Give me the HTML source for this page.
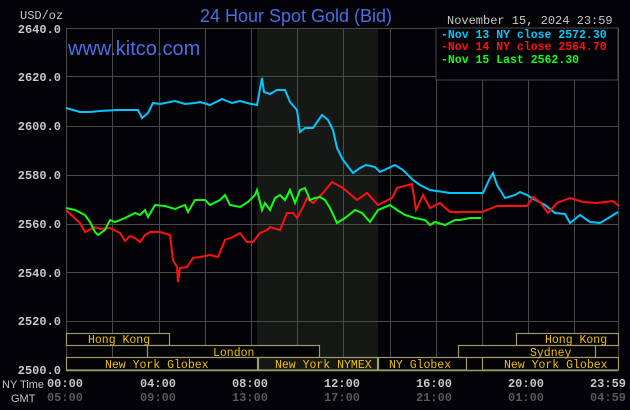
<!DOCTYPE html>
<html><head><meta charset="utf-8"><style>
html,body{margin:0;padding:0;background:#030206;}
svg{display:block}
.ax{font-family:"Liberation Mono",monospace;font-size:12px;fill:#c8c8c8;font-weight:bold}
.gm{font-family:"Liberation Mono",monospace;font-size:12px;fill:#5a5a5a;font-weight:bold}
.ses{font-family:"Liberation Mono",monospace;font-size:11.5px;fill:#f0c000}
.lg{font-family:"Liberation Mono",monospace;font-size:11.5px;font-weight:bold}
</style></head><body>
<svg width="630" height="410" viewBox="0 0 630 410">
<rect width="630" height="410" fill="#030206"/>
<rect x="257" y="28" width="121" height="342" fill="#151815"/>
<g stroke="#4a4a4a" stroke-width="1">
<line x1="66" y1="28.5" x2="618" y2="28.5"/>
<line x1="66" y1="76.5" x2="618" y2="76.5"/>
<line x1="66" y1="126.5" x2="618" y2="126.5"/>
<line x1="66" y1="175.5" x2="618" y2="175.5"/>
<line x1="66" y1="224.5" x2="618" y2="224.5"/>
<line x1="66" y1="272.5" x2="618" y2="272.5"/>
<line x1="66" y1="321.5" x2="618" y2="321.5"/>
<line x1="66.5" y1="28" x2="66.5" y2="370"/>
<line x1="112.5" y1="28" x2="112.5" y2="370"/>
<line x1="159.5" y1="28" x2="159.5" y2="370"/>
<line x1="205.5" y1="28" x2="205.5" y2="370"/>
<line x1="251.5" y1="28" x2="251.5" y2="370"/>
<line x1="297.5" y1="28" x2="297.5" y2="370"/>
<line x1="343.5" y1="28" x2="343.5" y2="370"/>
<line x1="390.5" y1="28" x2="390.5" y2="370"/>
<line x1="436.5" y1="28" x2="436.5" y2="370"/>
<line x1="482.5" y1="28" x2="482.5" y2="370"/>
<line x1="528.5" y1="28" x2="528.5" y2="370"/>
<line x1="574.5" y1="28" x2="574.5" y2="370"/>
<line x1="618.5" y1="28" x2="618.5" y2="370"/>
</g>
<rect x="436" y="28" width="182" height="52" fill="#030206" stroke="#4a4a4a"/>
<text class="lg" x="441" y="38" fill="#00c8ff">-Nov 13 NY close 2572.30</text>
<text class="lg" x="441" y="50" fill="#ff1010">-Nov 14 NY close 2564.70</text>
<text class="lg" x="441" y="63" fill="#10ff10">-Nov 15 Last 2562.30</text>
<text x="68" y="55" font-family="Liberation Sans,sans-serif" font-size="20" fill="#4a6ee8">www.kitco.com</text>
<text x="296" y="22" text-anchor="middle" font-family="Liberation Sans,sans-serif" font-size="18" fill="#4a6ee8">24 Hour Spot Gold (Bid)</text>
<text class="ax" x="447" y="24" style="font-weight:normal">November 15, 2024 23:59</text>
<text class="ax" x="20" y="19" style="font-weight:normal">USD/oz</text>
<g class="ax" text-anchor="end">
<text x="61" y="33">2640.0</text><text x="61" y="81">2620.0</text><text x="61" y="130">2600.0</text><text x="61" y="179">2580.0</text><text x="61" y="228">2560.0</text><text x="61" y="277">2540.0</text><text x="61" y="325">2520.0</text><text x="61" y="374">2500.0</text>
</g>
<polyline fill="none" stroke="#00c8ff" stroke-width="2" points="66,108 80,112 90,112 100,111 118,110 138,110 142,118 148,113 153,103 160,104 175,101 185,104 195,103 200,102 210,105 222,99 232,103 240,101 251,104 257,105 262,78 264,92 270,94 277,90 285,90 290,102 297,110 300,132 305,128 313,128 322,115 328,120 333,130 337,148 343,160 353,173 360,168 366,165 375,167 380,172 395,165 403,170 413,180 420,185 430,190 450,193 483,193 490,178 493,173 497,185 505,198 515,195 520,192 527,195 530,197 545,205 555,213 565,214 570,223 580,215 590,222 600,223 610,217 618,212"/>
<polyline fill="none" stroke="#ff1010" stroke-width="2" points="66,210 80,223 85,232 95,227 100,229 110,228 120,233 125,241 130,236 135,238 140,242 145,235 150,232 160,232 170,235 173,260 177,267 178,282 180,268 187,267 193,258 200,257 210,255 218,257 225,240 233,237 240,233 247,242 253,242 260,233 267,230 270,227 280,230 287,213 293,213 297,218 303,207 307,198 313,203 323,193 332,182 343,188 357,200 367,193 378,205 392,198 397,188 412,184 416,210 423,195 430,208 440,203 450,212 457,212 482,212 497,206 527,206 533,197 540,202 548,213 557,203 570,198 583,202 597,203 613,201 619,206"/>
<polyline fill="none" stroke="#10ff10" stroke-width="2" points="66,208 75,210 85,215 90,222 95,232 98,235 105,230 110,220 115,222 125,218 135,213 140,215 145,210 148,217 155,205 165,206 175,209 185,205 188,212 195,200 205,200 210,205 220,200 225,195 230,205 240,207 248,202 255,195 257,190 262,210 265,203 270,210 275,198 280,195 285,200 290,190 295,203 300,190 305,188 310,200 315,198 320,197 325,200 330,208 337,223 345,218 355,210 362,213 370,222 378,210 390,205 397,210 405,215 415,218 425,220 430,225 435,222 445,225 455,220 460,220 470,218 481,218"/>
<g fill="#030206" stroke="#a09a6a" stroke-width="1.2">
<rect x="66.5" y="333.5" width="103" height="12"/>
<rect x="516.5" y="333.5" width="102" height="12"/>
<rect x="147.5" y="345.5" width="172" height="12"/>
<rect x="458.5" y="345.5" width="137" height="12"/>
<rect x="66.5" y="357.5" width="191" height="12.5"/>
<rect x="258.5" y="357.5" width="119" height="12.5" fill="#151815"/>
<rect x="378.5" y="357.5" width="88" height="12.5"/>
<rect x="482.5" y="357.5" width="136" height="12.5"/>
</g>
<line x1="66" y1="370.5" x2="618" y2="370.5" stroke="#a09a6a" stroke-width="1.5"/>
<g class="ses">
<text x="88" y="343">Hong Kong</text><text x="545" y="343">Hong Kong</text>
<text x="213" y="356">London</text><text x="530" y="356">Sydney</text>
<text x="105" y="368">New York Globex</text><text x="275" y="368">New York NYMEX</text><text x="389" y="368">NY Globex</text><text x="504" y="368">New York Globex</text>
</g>
<text x="2" y="388" font-family="Liberation Sans,sans-serif" font-size="11" fill="#c8c8c8">NY Time</text>
<text x="11" y="402" font-family="Liberation Sans,sans-serif" font-size="11" fill="#c8c8c8">GMT</text>
<g class="ax" text-anchor="middle">
<text x="65" y="387">00:00</text><text x="158" y="387">04:00</text><text x="250" y="387">08:00</text><text x="342" y="387">12:00</text><text x="434" y="387">16:00</text><text x="526" y="387">20:00</text><text x="608" y="387">23:59</text>
</g>
<g class="gm" text-anchor="middle">
<text x="65" y="401">05:00</text><text x="158" y="401">09:00</text><text x="250" y="401">13:00</text><text x="342" y="401">17:00</text><text x="434" y="401">21:00</text><text x="526" y="401">01:00</text><text x="608" y="401">04:59</text>
</g>
</svg>
</body></html>
